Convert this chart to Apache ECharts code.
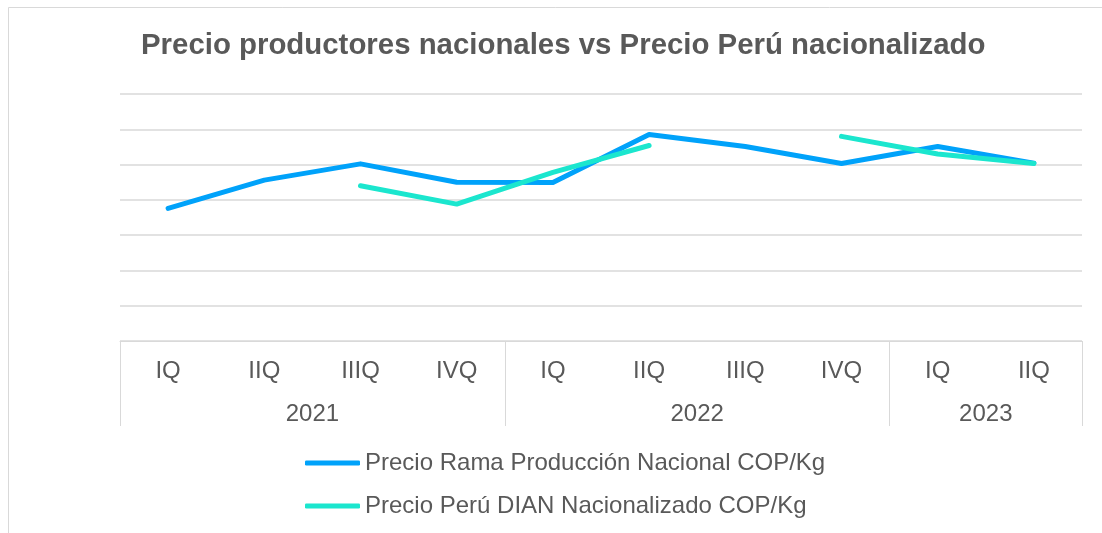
<!DOCTYPE html>
<html>
<head>
<meta charset="utf-8">
<title>Precio productores nacionales vs Precio Perú nacionalizado</title>
<script src="https://cdn.jsdelivr.net/npm/echarts@6/dist/echarts.min.js"></script>
<style>
  html, body { margin: 0; padding: 0; background: #fff; }
  #main { width: 1102px; height: 533px; }
</style>
</head>
<body>
<div id="main"></div>
<script>
// trimestres y años
var quarters = ["IQ", "IIQ", "IIIQ", "IVQ", "IQ", "IIQ", "IIIQ", "IVQ", "IQ", "IIQ"];
var years = ["2021", "2022", "2023"];
var yearSpans = [4, 4, 2];

// precios COP/Kg
var precioRama = [3760, 4560, 5020, 4500, 4490, 5850, 5510, 5030, 5510, 5040];
var precioPeru = [null, null, 4400, 3880, 4780, 5540, null, 5800, 5300, 5030];

var serieNames = ["Precio Rama Producción Nacional COP/Kg", "Precio Perú DIAN Nacionalizado COP/Kg"];

// posición central de cada año sobre el eje
var yearMid = {};
var acc = 0;
years.forEach(function (y, i) {
  yearMid[acc + yearSpans[i] / 2] = y;
  acc += yearSpans[i];
});

var font = "'Liberation Sans', Arial, sans-serif";
var txt = "#595959";
var gridColor = "#d9d9d9";

var myChart = echarts.init(document.getElementById("main"));
var option = {
  backgroundColor: "#fff",
  title: {
    text: "Precio productores nacionales vs Precio Perú nacionalizado",
    left: 141,
    top: 31,
    padding: 0,
    textStyle: { fontFamily: font, fontSize: 29.4, fontWeight: "bold", color: txt }
  },
  graphic: [{
    type: "rect",
    shape: { x: 8.5, y: 7.5, width: 1200, height: 600 },
    style: { fill: "none", stroke: gridColor, lineWidth: 1 },
    silent: true,
    z: -1
  }],
  legend: {
    orient: "vertical",
    left: 305,
    top: 451,
    padding: 0,
    icon: "roundRect",
    itemWidth: 55,
    itemHeight: 5,
    itemGap: 19,
    textStyle: { fontFamily: font, fontSize: 24, color: txt }
  },
  grid: { left: 120, right: 20, top: 94, bottom: 192 },
  xAxis: [
    {
      type: "category",
      data: quarters,
      position: "bottom",
      axisLine: { lineStyle: { color: gridColor, width: 1 } },
      axisTick: {
        show: true,
        length: 85,
        interval: function (idx) { return idx === 0 || idx === 4 || idx === 8; },
        lineStyle: { color: gridColor, width: 1 }
      },
      axisLabel: { interval: 0, margin: 18, fontFamily: font, fontSize: 24, color: txt }
    },
    {
      type: "value",
      min: 0,
      max: quarters.length,
      interval: 1,
      position: "bottom",
      axisLine: { show: false },
      axisTick: { show: false },
      splitLine: { show: false },
      axisLabel: {
        margin: 61,
        fontFamily: font,
        fontSize: 24,
        color: txt,
        formatter: function (v) { return yearMid[v] || ""; }
      }
    }
  ],
  yAxis: {
    type: "value",
    min: 0,
    max: 7000,
    interval: 1000,
    axisLabel: { show: false },
    axisLine: { show: false },
    axisTick: { show: false },
    splitLine: { lineStyle: { color: gridColor, width: 1.5 } }
  },
  series: [
    {
      name: serieNames[0],
      type: "line",
      data: precioRama,
      symbol: "none",
      lineStyle: { color: "#00A2FA", width: 5, cap: "round", join: "round" },
      itemStyle: { color: "#00A2FA" },
      z: 3
    },
    {
      name: serieNames[1],
      type: "line",
      data: precioPeru,
      symbol: "none",
      connectNulls: false,
      lineStyle: { color: "#1BE6CE", width: 5, cap: "round", join: "round" },
      itemStyle: { color: "#1BE6CE" },
      z: 4
    }
  ]
};
myChart.setOption(option);
</script>
</body>
</html>
